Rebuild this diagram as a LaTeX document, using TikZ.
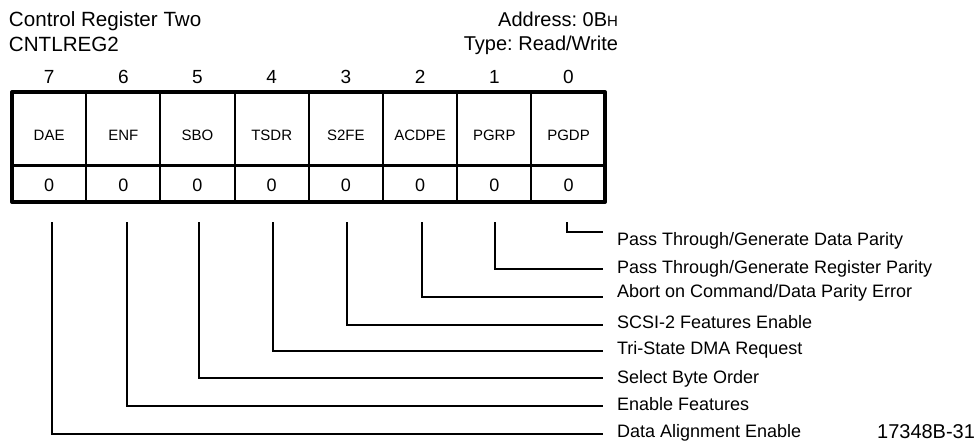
\documentclass[tikz,border=0pt]{standalone}
\usepackage{fontspec}
\setmainfont{Liberation Sans}
\frenchspacing
\begin{document}
\begin{tikzpicture}[x=1pt,y=-1pt,
  every node/.style={inner sep=0pt,outer sep=0pt},
  hdr/.style={font=\fontsize{20}{24}\selectfont},
  bitnum/.style={font=\fontsize{19}{23}\selectfont, anchor=base},
  cellname/.style={font=\fontsize{15}{18}\selectfont, anchor=base},
  cellval/.style={font=\fontsize{18}{22}\selectfont, anchor=base},
  legend/.style={font=\fontsize{18}{22}\selectfont, anchor=base west},
  outerline/.style={line width=4pt, line join=round},
  midline/.style={line width=3pt},
  innerline/.style={line width=2pt},
  conn/.style={line width=2pt}]
\useasboundingbox (0,0) rectangle (978,442);

% headers
\node[hdr, font=\fontsize{20.6}{24}\selectfont, anchor=base west] (title) at (9,26) {Control Register Two};
\node[hdr, font=\fontsize{20.6}{24}\selectfont, anchor=base west] (mnem) at (9,51) {CNTLREG2};
\node[hdr, anchor=base east] (addr) at (618,26) {Address: 0B{\fontsize{15}{18}\selectfont H}};
\node[hdr, anchor=base east] (type) at (618,50) {Type: Read/Write};

% table frame
\draw[innerline] (86.2,92) -- (86.2,202)
  (160.4,92) -- (160.4,202)
  (234.6,92) -- (234.6,202)
  (308.8,92) -- (308.8,202)
  (383.0,92) -- (383.0,202)
  (457.2,92) -- (457.2,202)
  (531.4,92) -- (531.4,202);
\draw[midline] (12,165) -- (605,165);
\draw[outerline] (12,92) rectangle (605,202);

% bit numbers, names, values
\foreach \b/\lab/\xx in {7/DAE/49.1,6/ENF/123.3,5/SBO/197.5,4/TSDR/271.7,3/S2FE/345.9,2/ACDPE/420.1,1/PGRP/494.3,0/PGDP/568.5}{
  \node[bitnum] (bit\b) at (\xx,83) {\b};
  \node[cellname] (name\b) at (\xx,140) {\lab};
  \node[cellval] (val\b) at (\xx,191) {0};
}

% legend labels
\node[legend] (l0) at (617,245) {Pass Through/Generate Data Parity};
\node[legend] (l1) at (617,273) {Pass Through/Generate Register Parity};
\node[legend] (l2) at (617,297) {Abort on Command/Data Parity Error};
\node[legend] (l3) at (617,328) {SCSI-2 Features Enable};
\node[legend] (l4) at (617,354) {Tri-State DMA Request};
\node[legend] (l5) at (617,383) {Select Byte Order};
\node[legend] (l6) at (617,410) {Enable Features};
\node[legend] (l7) at (617,437) {Data Alignment Enable};

% connector start and end points
\coordinate (s0) at (567,222); \coordinate (e0) at (603,232);
\coordinate (s1) at (495,222); \coordinate (e1) at (603,269);
\coordinate (s2) at (422,222); \coordinate (e2) at (603,297);
\coordinate (s3) at (347,222); \coordinate (e3) at (603,325);
\coordinate (s4) at (273,222); \coordinate (e4) at (603,351);
\coordinate (s5) at (199,222); \coordinate (e5) at (603,378);
\coordinate (s6) at (127,222); \coordinate (e6) at (603,406);
\coordinate (s7) at (52,222);  \coordinate (e7) at (603,434);
\foreach \i in {0,...,7}{ \draw[conn] (s\i) |- (e\i); }

\node[hdr, anchor=base east] (fig) at (975,438) {17348B-31};
\end{tikzpicture}
\end{document}
